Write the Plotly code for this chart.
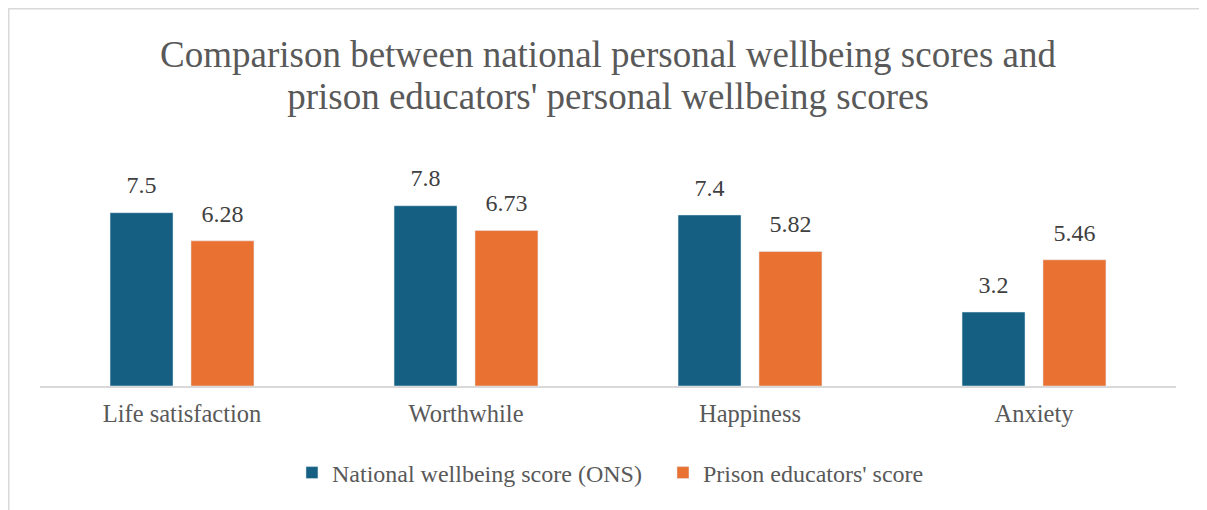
import plotly.graph_objects as go

categories = ["Life satisfaction", "Worthwhile", "Happiness", "Anxiety"]
national_scores = [7.5, 7.8, 7.4, 3.2]
educator_scores = [6.28, 6.73, 5.82, 5.46]
national_labels = ["7.5", "7.8", "7.4", "3.2"]
educator_labels = ["6.28", "6.73", "5.82", "5.46"]

# page has an 8px body margin, so the figure is a bit smaller than the window
W, H = 1199, 502
ml, mr, mt, mb = 32, 31, 170, 124
pw, ph = W - ml - mr, H - mt - mb

serif = "Liberation Serif"
label_tpl = "<span style='font-size:24px'>%{text}</span><br> "

fig = go.Figure()
fig.add_trace(go.Bar(
    x=categories, y=national_scores, name="National wellbeing score (ONS)",
    marker_color="#156082", text=national_labels, textposition="outside",
    texttemplate=label_tpl, constraintext="none",
    textfont=dict(family=serif, size=11, color="#404040"), cliponaxis=False,
))
fig.add_trace(go.Bar(
    x=categories, y=educator_scores, name="Prison educators' score",
    marker_color="#E97132", text=educator_labels, textposition="outside",
    texttemplate=label_tpl, constraintext="none",
    textfont=dict(family=serif, size=11, color="#404040"), cliponaxis=False,
))

# light grey chart border (right and bottom edges fall outside the frame)
fig.add_shape(type="rect", xref="paper", yref="paper",
              x0=(0.75 - ml) / pw, x1=(W + 20 - ml) / pw,
              y0=-(H + 20 - (H - mb)) / ph, y1=(H - mb - 0.75) / ph,
              line=dict(color="#d9d9d9", width=1.5), layer="below")

title_txt = ("<span style='font-size:37px'>Comparison between national personal wellbeing scores and</span><br>"
             "<span style='font-size:37px'>prison educators' personal wellbeing scores</span>")

fig.update_layout(
    width=W, height=H,
    margin=dict(l=ml, r=mr, t=mt, b=mb, autoexpand=False),
    paper_bgcolor="white", plot_bgcolor="white",
    title=dict(
        text=title_txt,
        x=0.5, xref="paper", xanchor="center", y=1 - 58.5 / H, yanchor="middle",
        font=dict(family=serif, size=33, color="#595959"),
    ),
    barmode="group", bargap=0.43, bargroupgap=0.222,
    xaxis=dict(showline=True, linecolor="#d9d9d9", linewidth=1.5,
               ticks="", ticklabelstandoff=5,
               tickfont=dict(family=serif, size=24.5, color="#595959"),
               showgrid=False),
    yaxis=dict(range=[0, 9], visible=False, showgrid=False),
    legend=dict(orientation="h", x=0.5484, xanchor="center",
                y=-(465 - (H - mb)) / ph, yanchor="middle",
                font=dict(family=serif, size=24, color="#595959"),
                itemwidth=30, entrywidth=326),
    showlegend=True,
)

fig.write_html("out.html")
